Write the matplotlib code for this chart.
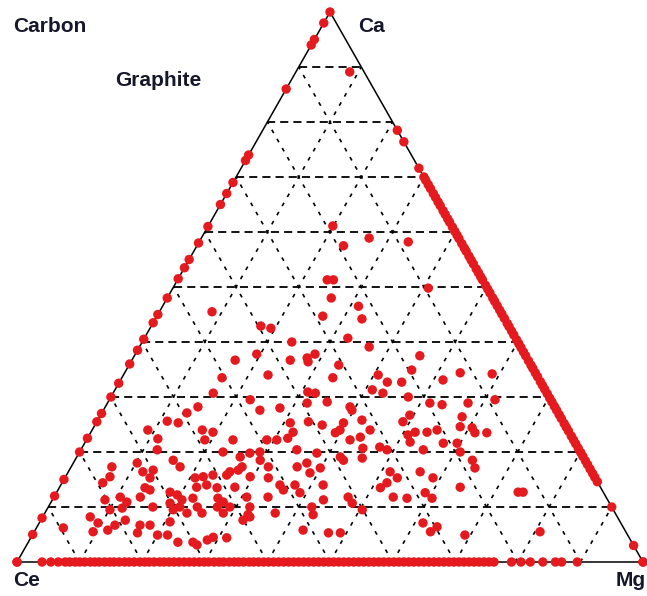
import numpy as np
import matplotlib.pyplot as plt

# Ternary compositions (fractions of Ca and Mg; Ce = 1 - Ca - Mg)

# samples lying on the Ce-Ca side (Mg = 0)
ce_ca_ca = [1.0, 0.98, 0.95, 0.94, 0.86, 0.74, 0.73, 0.69, 0.67, 0.65, 0.61,
            0.58, 0.55, 0.535, 0.515, 0.48, 0.45, 0.435, 0.405, 0.385, 0.36,
            0.325, 0.3, 0.27, 0.255, 0.225, 0.2, 0.15, 0.12, 0.08, 0.05, 0.0]

# samples lying on the Ca-Mg side (Ce = 0)
ca_mg_ca = [0.785, 0.764, 0.716, 0.700, 0.694, 0.686, 0.679, 0.670, 0.663,
            0.655, 0.648, 0.639, 0.632, 0.624, 0.618, 0.609, 0.601, 0.594,
            0.588, 0.579, 0.571, 0.565, 0.556, 0.549, 0.542, 0.533, 0.526,
            0.519, 0.513, 0.503, 0.496, 0.489, 0.480, 0.474, 0.466, 0.458,
            0.451, 0.443, 0.434, 0.428, 0.420, 0.413, 0.404, 0.397, 0.390,
            0.382, 0.375, 0.366, 0.358, 0.352, 0.344, 0.337, 0.328, 0.321,
            0.314, 0.306, 0.298, 0.291, 0.283, 0.276, 0.268, 0.261, 0.252,
            0.245, 0.238, 0.229, 0.222, 0.215, 0.207, 0.199, 0.192, 0.184,
            0.177, 0.169, 0.161, 0.154, 0.146, 0.10, 0.03, 0.0]

# samples lying on the Ce-Mg side (Ca = 0)
ce_mg_mg = [0.0, 0.040, 0.054, 0.066, 0.077, 0.084, 0.093, 0.100, 0.108,
            0.117, 0.124, 0.131, 0.140, 0.148, 0.155, 0.163, 0.172, 0.179,
            0.187, 0.196, 0.204, 0.211, 0.219, 0.228, 0.235, 0.243, 0.251,
            0.259, 0.267, 0.275, 0.283, 0.291, 0.299, 0.306, 0.315, 0.323,
            0.330, 0.339, 0.347, 0.354, 0.362, 0.371, 0.378, 0.386, 0.394,
            0.402, 0.410, 0.418, 0.426, 0.434, 0.442, 0.450, 0.458, 0.466,
            0.474, 0.482, 0.490, 0.498, 0.506, 0.514, 0.522, 0.530, 0.538,
            0.546, 0.554, 0.562, 0.570, 0.578, 0.586, 0.594, 0.602, 0.610,
            0.618, 0.626, 0.634, 0.642, 0.650, 0.658, 0.666, 0.674, 0.682,
            0.690, 0.698, 0.706, 0.714, 0.722, 0.730, 0.738, 0.746, 0.754,
            0.762, 0.790, 0.805, 0.820, 0.840, 0.860, 0.870, 0.895, 1.0]

# samples inside the diagram
inner_ca = [0.891, 0.611, 0.589, 0.575, 0.582, 0.513, 0.513, 0.480, 0.465,
            0.447, 0.442, 0.455, 0.498, 0.429, 0.425, 0.407, 0.400, 0.391,
            0.367, 0.378, 0.367, 0.371, 0.378, 0.364, 0.358, 0.375, 0.344,
            0.342,
            0.340, 0.335, 0.307, 0.295, 0.282, 0.271, 0.276, 0.280, 0.256,
            0.253, 0.240, 0.236, 0.240, 0.222, 0.222, 0.224, 0.253, 0.236,
            0.222, 0.225, 0.222, 0.204, 0.200, 0.191, 0.198, 0.200, 0.173,
            0.185, 0.185, 0.173, 0.173, 0.155, 0.144, 0.180, 0.164, 0.167,
            0.153, 0.153, 0.155, 0.158, 0.158, 0.164, 0.167, 0.155, 0.173,
            0.153, 0.140, 0.131, 0.135, 0.131, 0.127, 0.122, 0.113, 0.136,
            0.140, 0.135, 0.116, 0.109, 0.136, 0.118, 0.118, 0.113, 0.118,
            0.109, 0.095, 0.098, 0.118, 0.100, 0.107, 0.095, 0.100, 0.089,
            0.116, 0.100, 0.089, 0.100, 0.089, 0.100, 0.100, 0.086, 0.089,
            0.082, 0.071, 0.055, 0.062, 0.067, 0.058, 0.076, 0.067, 0.053,
            0.067, 0.049, 0.073, 0.049, 0.036, 0.036, 0.031, 0.040, 0.045,
            0.076, 0.082, 0.044,
            0.335, 0.340, 0.327, 0.313, 0.307, 0.327, 0.349, 0.331, 0.309,
            0.307, 0.289, 0.291, 0.282, 0.276, 0.300, 0.289, 0.286, 0.289,
            0.295, 0.255, 0.249, 0.253, 0.240, 0.235, 0.258, 0.240, 0.227,
            0.222, 0.255, 0.267, 0.231, 0.236, 0.218, 0.236, 0.240, 0.264,
            0.246, 0.244, 0.235, 0.235, 0.216, 0.200, 0.209, 0.204, 0.207,
            0.189, 0.204, 0.216, 0.204, 0.198, 0.191, 0.185, 0.185, 0.171,
            0.173, 0.180, 0.162, 0.171, 0.164, 0.153, 0.144, 0.135, 0.164,
            0.153, 0.140, 0.140, 0.136, 0.127, 0.127, 0.126, 0.113, 0.118,
            0.107, 0.095, 0.118, 0.116, 0.126, 0.116, 0.100, 0.086, 0.071,
            0.064, 0.055, 0.058, 0.053, 0.053, 0.049, 0.055]
inner_mg = [0.086, 0.199, 0.268, 0.234, 0.334, 0.239, 0.249, 0.262, 0.313,
            0.265, 0.330, 0.084, 0.408, 0.175, 0.193, 0.325, 0.239, 0.367,
            0.165, 0.194, 0.253, 0.278, 0.287, 0.283, 0.335, 0.456, 0.536,
            0.588,
            0.231, 0.160, 0.160, 0.225, 0.148, 0.136, 0.250, 0.280, 0.112,
            0.131, 0.176, 0.195, 0.089, 0.189, 0.234, 0.113, 0.310, 0.323,
            0.304, 0.320, 0.288, 0.122, 0.229, 0.261, 0.273, 0.288, 0.273,
            0.296, 0.157, 0.174, 0.065, 0.071, 0.065, 0.102, 0.119, 0.134,
            0.136, 0.208, 0.220, 0.234, 0.256, 0.258, 0.270, 0.295, 0.315,
            0.325, 0.350, 0.360, 0.137, 0.147, 0.181, 0.195, 0.207, 0.219,
            0.233, 0.252, 0.263, 0.275, 0.280, 0.308, 0.342, 0.084, 0.106,
            0.121, 0.101, 0.119, 0.138, 0.167, 0.191, 0.202, 0.210, 0.227,
            0.223, 0.238, 0.251, 0.270, 0.285, 0.290, 0.322, 0.326, 0.368,
            0.076, 0.094, 0.094, 0.043, 0.123, 0.116, 0.135, 0.163, 0.166,
            0.179, 0.200, 0.208, 0.216, 0.239, 0.263, 0.272, 0.284, 0.291,
            0.323, 0.331, 0.313,
            0.337, 0.407, 0.428, 0.411, 0.431, 0.451, 0.456, 0.515, 0.310,
            0.323, 0.319, 0.350, 0.391, 0.397, 0.475, 0.515, 0.536, 0.576,
            0.616, 0.338, 0.363, 0.395, 0.396, 0.391, 0.422, 0.444, 0.435,
            0.421, 0.489, 0.494, 0.509, 0.518, 0.519, 0.537, 0.551, 0.579,
            0.585, 0.605, 0.614, 0.633, 0.595, 0.608, 0.475, 0.489, 0.449,
            0.457, 0.547, 0.573, 0.345, 0.380, 0.421, 0.429, 0.635, 0.646,
            0.361, 0.373, 0.387, 0.399, 0.514, 0.531, 0.519, 0.513, 0.562,
            0.588, 0.419, 0.374, 0.640, 0.745, 0.737, 0.389, 0.433, 0.470,
            0.482, 0.504, 0.542, 0.565, 0.589, 0.605, 0.421, 0.430, 0.613,
            0.639, 0.633, 0.428, 0.471, 0.490, 0.691, 0.808]

RED = '#e51a1e'
INK = '#17172b'


def to_xy(ca, mg):
    ca = np.asarray(ca, dtype=float)
    mg = np.asarray(mg, dtype=float)
    return mg + ca / 2, ca


fig = plt.figure(figsize=(6.47, 5.96), dpi=100)
ax = fig.add_axes([17 / 647, 34 / 596, 626 / 647, 550 / 596])
ax.set_xlim(0, 1)
ax.set_ylim(0, 1)
ax.axis('off')

# dashed grid, 10 % steps
for i in range(1, 10):
    f = i / 10
    ax.plot([f / 2, 1 - f / 2], [f, f], color='black', lw=1.3,
            linestyle=(0, (4.5, 2.8)), zorder=1)
    ax.plot([f, f + (1 - f) / 2], [0, 1 - f], color='black', lw=1.2,
            linestyle=(0, (2.3, 4)), zorder=1)
    ax.plot([1 - f, (1 - f) / 2], [0, 1 - f], color='black', lw=1.2,
            linestyle=(0, (2.3, 4)), zorder=1)

# triangle outline
ax.plot([0, 1, 0.5, 0], [0, 0, 1, 0], color='black', lw=1.1, zorder=2,
        clip_on=False)

pts = [
    to_xy(ce_ca_ca, np.zeros(len(ce_ca_ca))),
    to_xy(ca_mg_ca, 1 - np.asarray(ca_mg_ca)),
    to_xy(np.zeros(len(ce_mg_mg)), ce_mg_mg),
    to_xy(inner_ca, inner_mg),
]
for x, y in pts:
    ax.scatter(x, y, s=46, color=RED, edgecolors='none', zorder=3,
               clip_on=False)

kw = dict(fontsize=15, fontweight='bold', color=INK,
          family='Liberation Sans', va='center')
fig.text(13 / 647, 1 - 27 / 596, 'Carbon', ha='left', **kw)
fig.text(115 / 647, 1 - 80 / 596, 'Graphite', ha='left', **kw)
fig.text(358 / 647, 1 - 27 / 596, 'Ca', ha='left', **kw)
fig.text(13 / 647, 1 - 581 / 596, 'Ce', ha='left', **kw)
fig.text(646 / 647, 1 - 580 / 596, 'Mg', ha='right', **kw)

fig.savefig('out.png', dpi=100)
